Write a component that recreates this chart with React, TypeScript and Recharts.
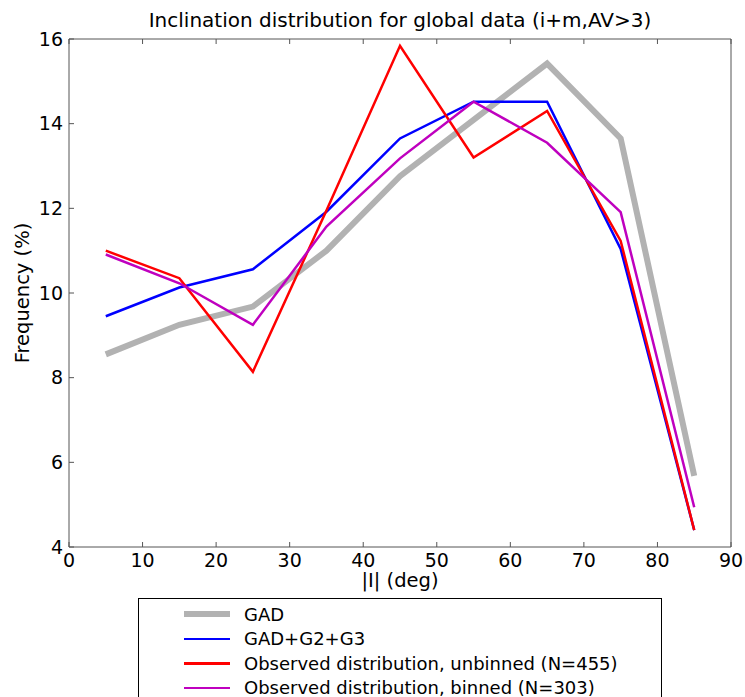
import { LineChart, Line, XAxis, YAxis, Legend } from 'recharts';

const inclination = [5, 15, 25, 35, 45, 55, 65, 75, 85];
const gad = [8.55, 9.25, 9.68, 11.0, 12.76, 14.09, 15.42, 13.65, 5.68];
const gadG2G3 = [9.45, 10.13, 10.56, 11.92, 13.65, 14.52, 14.52, 11.04, 4.4];
const unbinned = [11.0, 10.35, 8.14, 11.95, 15.84, 13.2, 14.3, 11.23, 4.4];
const binned = [10.91, 10.23, 9.25, 11.57, 13.18, 14.52, 13.55, 11.91, 4.94];

const xTicks = [0, 10, 20, 30, 40, 50, 60, 70, 80, 90];
const yTicks = [4, 6, 8, 10, 12, 14, 16];

const title = 'Inclination distribution for global data (i+m,AV>3)';
const xLabel = '|I| (deg)';
const yLabel = 'Frequency (%)';

const series = [
  { key: 'gad', name: 'GAD', color: '#b2b2b2', width: 6 },
  { key: 'gadG2G3', name: 'GAD+G2+G3', color: '#0000ff', width: 2.5 },
  { key: 'unbinned', name: 'Observed distribution, unbinned (N=455)', color: '#ff0000', width: 2.5 },
  { key: 'binned', name: 'Observed distribution, binned (N=303)', color: '#bf00bf', width: 2.5 },
];

const data = inclination.map((x, i) => ({
  x,
  gad: gad[i],
  gadG2G3: gadG2G3[i],
  unbinned: unbinned[i],
  binned: binned[i],
}));

const FRAME = '#555';
const TICK_FONT = 19;
const LABEL_FONT = 19.5;
const TITLE_FONT = 20;
const LEGEND_FONT = 18;

function BottomTick({ x, y, payload }: any) {
  return (
    <g>
      <line x1={x} x2={x} y1={y} y2={y - 5} stroke={FRAME} />
      <text x={x} y={y + 5} dy="0.8em" textAnchor="middle" fontSize={TICK_FONT} fill="#000">
        {payload.value}
      </text>
    </g>
  );
}

function TopTick({ x, y }: any) {
  return <line x1={x} x2={x} y1={y} y2={y + 5} stroke={FRAME} />;
}

function LeftTick({ x, y, payload }: any) {
  return (
    <g>
      <line x1={x} x2={x + 5} y1={y} y2={y} stroke={FRAME} />
      <text x={x - 6} y={y} dy="0.35em" textAnchor="end" fontSize={TICK_FONT} fill="#000">
        {payload.value}
      </text>
    </g>
  );
}

function RightTick({ x, y }: any) {
  return <line x1={x} x2={x - 5} y1={y} y2={y} stroke={FRAME} />;
}

function LegendBox() {
  return (
    <div
      style={{
        width: 524,
        height: 110,
        border: '1px solid #000',
        background: '#fff',
        boxSizing: 'border-box',
        paddingTop: 3,
      }}
    >
      {series.map((s) => (
        <div key={s.key} style={{ display: 'flex', alignItems: 'center', height: 24.5 }}>
          <div style={{ width: 46, height: s.width, background: s.color, marginLeft: 45, marginRight: 14 }} />
          <span style={{ fontSize: LEGEND_FONT, color: '#000' }}>{s.name}</span>
        </div>
      ))}
    </div>
  );
}

export default function App() {
  return (
    <div style={{ position: 'absolute', left: 0, top: 0, width: 745, height: 697, overflow: 'hidden', background: '#fff', fontFamily: '"DejaVu Sans", sans-serif' }}>
      <LineChart width={745} height={697} data={data} margin={{ top: 38, right: 13, bottom: 149, left: 68 }}>
        <XAxis
          dataKey="x"
          type="number"
          domain={[0, 90]}
          ticks={xTicks}
          height={1}
          tickSize={0}
          tickMargin={0}
          tick={<BottomTick />}
          axisLine={{ stroke: FRAME }}
          interval={0}
          label={{ value: xLabel, position: 'bottom', offset: 25, fontSize: LABEL_FONT, fill: '#000' }}
        />
        <XAxis
          xAxisId="top"
          orientation="top"
          dataKey="x"
          type="number"
          domain={[0, 90]}
          ticks={xTicks}
          height={1}
          tickSize={0}
          tickMargin={0}
          tick={<TopTick />}
          axisLine={{ stroke: FRAME }}
          interval={0}
          label={{ value: title, position: 'top', offset: 11, fontSize: TITLE_FONT, fill: '#000' }}
        />
        <YAxis
          type="number"
          domain={[4, 16]}
          ticks={yTicks}
          width={1}
          tickSize={0}
          tickMargin={0}
          tick={<LeftTick />}
          axisLine={{ stroke: FRAME }}
          interval={0}
          label={{ value: yLabel, angle: -90, position: 'left', offset: 46, fontSize: LABEL_FONT, fill: '#000', style: { textAnchor: 'middle' } }}
        />
        <YAxis
          yAxisId="right"
          orientation="right"
          type="number"
          domain={[4, 16]}
          ticks={yTicks}
          width={1}
          tickSize={0}
          tickMargin={0}
          tick={<RightTick />}
          axisLine={{ stroke: FRAME }}
          interval={0}
        />
        {series.map((s) => (
          <Line
            key={s.key}
            dataKey={s.key}
            name={s.name}
            stroke={s.color}
            strokeWidth={s.width}
            dot={false}
            activeDot={false}
            isAnimationActive={false}
            strokeLinejoin="miter"
          />
        ))}
        <Legend
          layout="vertical"
          align="center"
          verticalAlign="middle"
          content={() => <LegendBox />}
          wrapperStyle={{ left: 138, top: 598, width: 524 }}
        />
      </LineChart>
    </div>
  );
}
